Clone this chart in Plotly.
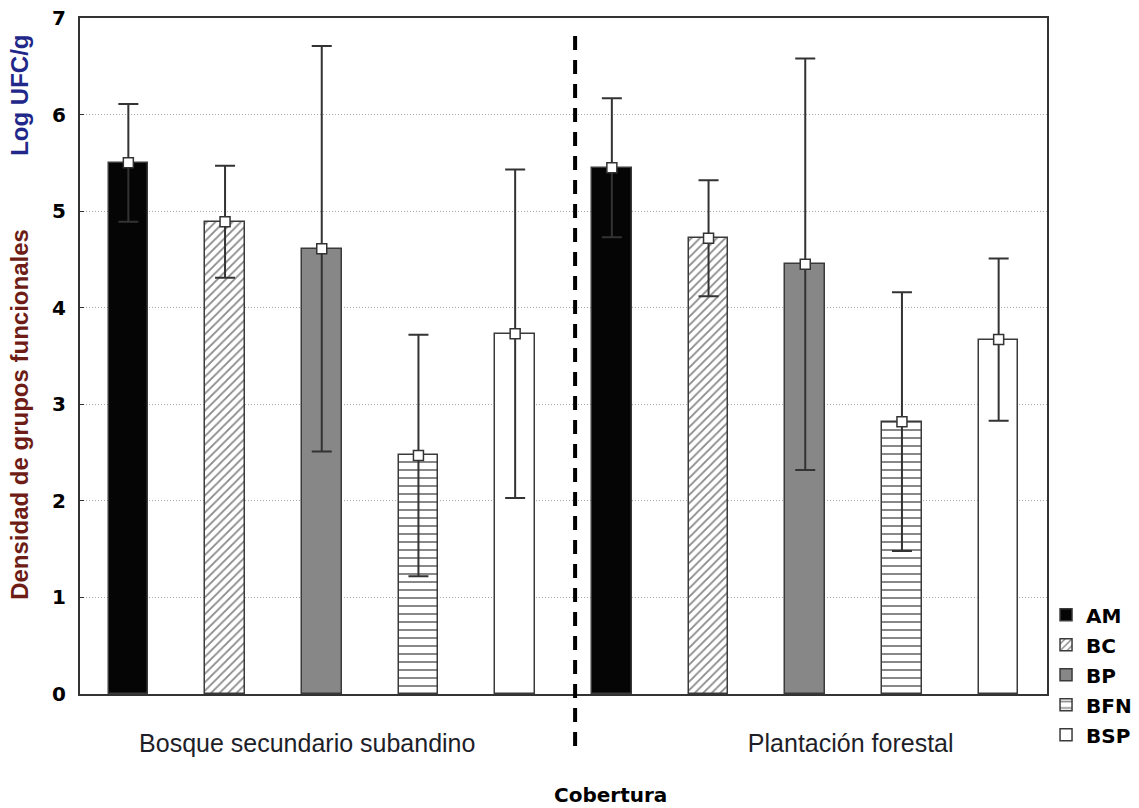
import plotly.graph_objects as go

# Functional-group density (log CFU/g) by land cover
groups = ["Bosque secundario subandino", "Plantación forestal"]
series = ["AM", "BC", "BP", "BFN", "BSP"]
means = {
    "AM": [5.50, 5.45],
    "BC": [4.89, 4.72],
    "BP": [4.61, 4.45],
    "BFN": [2.47, 2.82],
    "BSP": [3.73, 3.67],
}
errors = {
    "AM": [0.61, 0.72],
    "BC": [0.58, 0.60],
    "BP": [2.10, 2.13],
    "BFN": [1.25, 1.34],
    "BSP": [1.70, 0.84],
}
y_ticks = [0, 1, 2, 3, 4, 5, 6, 7]

# bar styling per functional group
styles = {
    "AM": dict(color="#050505", pattern=dict(shape="")),
    "BC": dict(color="white", pattern=dict(shape="/", fgcolor="#111", bgcolor="white", size=6, solidity=0.3)),
    "BP": dict(color="#878787", pattern=dict(shape="")),
    "BFN": dict(color="white", pattern=dict(shape="-", fgcolor="#111", bgcolor="white", size=8, solidity=0.25)),
    "BSP": dict(color="white", pattern=dict(shape="")),
}

n_series = len(series)
fig = go.Figure()

for k, name in enumerate(series):
    xs = [g * n_series + k for g in range(len(groups))]
    st = styles[name]
    fig.add_trace(go.Bar(
        x=xs, y=means[name], name=name, width=0.41,
        legendgroup=name,
        marker=dict(color=st["color"], pattern=st["pattern"],
                    line=dict(color="#3a3a3a", width=1.5)),
    ))

for k, name in enumerate(series):
    xs = [g * n_series + k for g in range(len(groups))]
    fig.add_trace(go.Scatter(
        x=xs, y=means[name], mode="markers", showlegend=False,
        legendgroup=name,
        marker=dict(symbol="square", size=10, color="white",
                    line=dict(color="#333", width=1.5)),
        error_y=dict(type="data", array=errors[name], color="#333",
                     thickness=2, width=10),
    ))

# separator between the two land covers
fig.add_shape(type="line", xref="x", yref="paper",
              x0=4.62, x1=4.62, y0=-0.077, y1=0.982,
              line=dict(color="black", width=4, dash="14px,10px"))

label_font = dict(family="Liberation Sans", size=25, color="#1e1e28")
title_font = dict(family="Liberation Sans", size=24, weight="bold")

fig.update_layout(
    width=1139, height=808,
    margin=dict(l=80, r=92, t=18, b=114, autoexpand=False),
    paper_bgcolor="white", plot_bgcolor="white",
    showlegend=True,
    bargap=0,
    legend=dict(
        x=0.999, y=0.146, xanchor="left", yanchor="top",
        font=dict(family="DejaVu Sans", size=20, weight="bold", color="black"),
        tracegroupgap=1, itemwidth=30, bgcolor="rgba(0,0,0,0)",
    ),
    xaxis=dict(
        range=[-0.5, 9.5],
        tickmode="array", tickvals=[1.85, 7.47], ticktext=groups,
        tickfont=label_font, ticks="", ticklabelstandoff=26,
        showgrid=False, zeroline=False,
        showline=True, mirror=True, linecolor="#333", linewidth=2,
    ),
    yaxis=dict(
        range=[0, 7], tickmode="array", tickvals=y_ticks,
        tickfont=dict(family="DejaVu Sans", size=20, weight="bold", color="black"),
        ticks="inside", ticklen=4, tickcolor="#333", ticklabelstandoff=8,
        showgrid=True, gridcolor="#a8a8a8", griddash="1px,2px", gridwidth=1,
        zeroline=False,
        showline=True, mirror=True, linecolor="#333", linewidth=2,
    ),
    annotations=[
        dict(text="Cobertura", xref="paper", yref="paper", x=0.549, y=-0.149,
             showarrow=False, xanchor="center", yanchor="middle",
             font=dict(family="DejaVu Sans", size=20, weight="bold", color="black")),
        dict(text="Densidad de grupos funcionales", xref="paper", yref="paper",
             x=-0.062, y=0.413, textangle=-90, showarrow=False,
             xanchor="center", yanchor="middle",
             font=dict(title_font, color="#6e1c16")),
        dict(text="Log UFC/g", xref="paper", yref="paper",
             x=-0.062, y=0.885, textangle=-90, showarrow=False,
             xanchor="center", yanchor="middle",
             font=dict(title_font, color="#22288a")),
    ],
)

fig.write_html("out.html")
